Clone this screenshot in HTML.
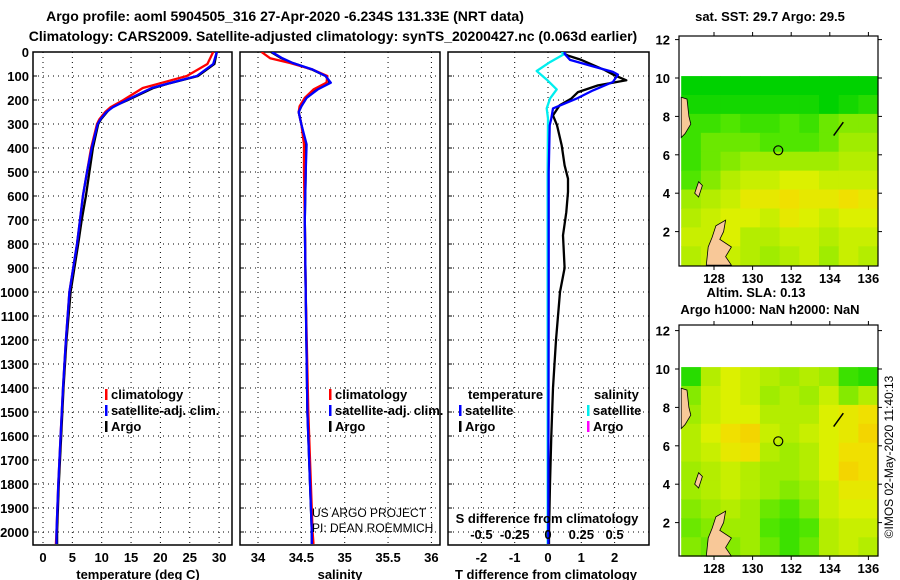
<!DOCTYPE html>
<html><head><meta charset="utf-8">
<style>
html,body{margin:0;padding:0;background:#fff;}
svg{display:block;font-family:"Liberation Sans",Arial,sans-serif;}
.b{font-weight:bold;font-size:13px;}
.t{font-weight:bold;font-size:14px;}
</style></head>
<body>
<svg id="fig" width="900" height="580" viewBox="0 0 900 580" xmlns="http://www.w3.org/2000/svg">
<text class="t" x="285" y="21" text-anchor="middle">Argo profile: aoml 5904505_316 27-Apr-2020 -6.234S 131.33E (NRT data)</text>
<text class="t" x="333" y="41" text-anchor="middle">Climatology: CARS2009. Satellite-adjusted climatology: synTS_20200427.nc (0.063d earlier)</text>
<g id="panels"></g>
<g id="maps"></g>
</svg>
<script>
// ---------- profile data ----------
const tempDepths = [0,50,100,130,150,200,230,250,280,300,400,500,600,700,800,1000,1200,1400,1600,1800,2000,2050];
const argoTemp = [29.6,29.2,26.4,21.6,18.8,14.5,11.7,10.9,9.9,9.4,8.5,7.9,7.3,6.6,6.0,4.7,4.0,3.5,3.1,2.7,2.4,2.4];
const climTemp = [29.0,28.0,24.5,20.0,17.0,13.7,11.5,10.6,9.6,9.2,8.2,7.5,6.8,6.3,5.8,4.5,3.9,3.4,3.0,2.6,2.3,2.2];
const satTemp = [29.6,29.0,26.2,21.5,18.5,14.3,11.9,10.8,9.8,9.3,8.3,7.5,6.8,6.3,5.8,4.5,3.9,3.4,3.0,2.6,2.3,2.3];
const salDepths = [0,26,46,73,100,128,156,191,226,250,302,385,500,700,1000,1500,2000,2050];
const climSal = [34.04,34.14,34.37,34.63,34.80,34.79,34.64,34.54,34.48,34.47,34.50,34.53,34.53,34.54,34.55,34.58,34.63,34.64];
const satSal = [34.16,34.28,34.40,34.63,34.78,34.84,34.69,34.56,34.50,34.47,34.50,34.56,34.55,34.54,34.55,34.57,34.62,34.62];
const argoSal = [34.15,34.27,34.40,34.62,34.78,34.83,34.68,34.56,34.50,34.47,34.50,34.55,34.55,34.54,34.55,34.57,34.62,34.62];
const satTdiffDepths = [0,8,33,60,83,94,125,160,194,235,277,305,500,1000,2000,2050];
const satTdiff = [0.5,0.5,0.66,1.35,1.95,2.1,1.95,1.35,0.86,0.15,0.1,0.05,0.02,0.02,0.01,0.01];
const argoTdiffDepths = [0,15,33,75,97,118,139,167,194,222,264,305,389,472,528,583,667,764,900,1000,1200,1400,1600,1800,2000,2050];
const argoTdiff = [0.4,0.6,1.0,1.7,2.0,2.35,1.5,0.9,0.7,0.35,0.15,0.27,0.41,0.5,0.6,0.6,0.55,0.45,0.5,0.36,0.24,0.15,0.1,0.06,0.03,0.03];
const satSdiffDepths = [0,8,42,79,115,156,194,235,277,500,1000,2000,2050];
const satSdiff = [0.1,0.125,0.015,-0.085,-0.01,0.065,0.015,-0.01,0,-0.003,-0.003,-0.002,-0.002];
const depthTicks = [0,100,200,300,400,500,600,700,800,900,1000,1100,1200,1300,1400,1500,1600,1700,1800,1900,2000];
const tempTicks = [0,5,10,15,20,25,30];
const salTicks = [34,34.5,35,35.5,36];
const tdiffTicks = [-2,-1,0,1,2];
const sdiffTicks = [-0.5,-0.25,0,0.25,0.5];
// ---------- map data (rows lat 10->0, cols lon 126.3->136.5) ----------
const sstGrid = [
[0.25,0.25,0.25,0.25,0.25,0.25,0.25,0.25,0.25,0.25],
[0.3,0.3,0.3,0.3,0.3,0.3,0.3,0.25,0.3,0.35],
[0.4,0.4,0.45,0.4,0.4,0.45,0.4,0.5,0.55,0.55],
[0.4,0.5,0.5,0.5,0.45,0.45,0.45,0.5,0.6,0.6],
[0.4,0.5,0.55,0.6,0.6,0.6,0.6,0.6,0.65,0.65],
[0.45,0.55,0.65,0.7,0.7,0.75,0.75,0.7,0.7,0.7],
[0.6,0.65,0.7,0.8,0.8,0.85,0.8,0.8,0.85,0.8],
[0.65,0.7,0.75,0.75,0.7,0.8,0.75,0.7,0.75,0.75],
[0.7,0.7,0.75,0.65,0.65,0.7,0.7,0.65,0.7,0.7],
[0.65,0.7,0.7,0.65,0.6,0.65,0.7,0.6,0.7,0.65]];
const slaGrid = [
[0.35,0.65,0.75,0.7,0.65,0.6,0.65,0.6,0.4,0.35],
[0.55,0.7,0.75,0.7,0.6,0.65,0.6,0.7,0.55,0.65],
[0.6,0.7,0.75,0.75,0.65,0.65,0.65,0.75,0.8,0.85],
[0.65,0.75,0.85,0.9,0.7,0.65,0.7,0.75,0.8,0.9],
[0.65,0.7,0.8,0.85,0.65,0.6,0.65,0.75,0.85,0.85],
[0.6,0.65,0.7,0.65,0.6,0.6,0.65,0.75,0.9,0.85],
[0.6,0.65,0.7,0.65,0.6,0.55,0.6,0.7,0.8,0.8],
[0.55,0.6,0.65,0.6,0.5,0.45,0.55,0.7,0.75,0.75],
[0.5,0.55,0.6,0.6,0.45,0.4,0.45,0.65,0.7,0.7],
[0.55,0.5,0.55,0.6,0.5,0.4,0.5,0.65,0.7,0.65]];
const latTicks = [2,4,6,8,10,12];
const lonTicks = [128,130,132,134,136];
const floatLon = 131.33, floatLat = 6.234;

const NS = "http://www.w3.org/2000/svg";
function mk(tag, attrs, parent, txt){
  const e = document.createElementNS(NS, tag);
  for (const k in attrs) e.setAttribute(k, attrs[k]);
  if (txt !== undefined) e.textContent = txt;
  parent.appendChild(e);
  return e;
}
const P = document.getElementById('panels');
const yD = d => 52 + d * 0.24;
const panels = [
  {x0:33, x1:232, name:'temperature-panel', sx: v => 43 + v*5.87},
  {x0:240, x1:440, name:'salinity-panel', sx: v => 258 + (v-34)*86.7},
  {x0:448, x1:649, name:'difference-panel', sx: v => 548 + v*33.3}
];
const sS = v => 548 + v*133.2;
const yTop = 52, yBot = 545;

panels.forEach((p, i) => {
  const g = mk('g', {}, P);
  
  
  const clip = mk('clipPath', {id:'clip'+i}, g);
  mk('rect', {x:p.x0, y:yTop, width:p.x1-p.x0, height:yBot-yTop}, clip);
  depthTicks.forEach(d => {
    const l = mk('line', {x1:p.x0, x2:p.x1, y1:yD(d), y2:yD(d), stroke:'#000', 'stroke-width':1, 'stroke-dasharray':'1 4'}, g);
    
    
    mk('line', {x1:p.x0, x2:p.x0+4, y1:yD(d), y2:yD(d), stroke:'#000'}, g);
    if (i === 0) {
      const t = mk('text', {x:29, y:yD(d)+5, 'text-anchor':'end', class:'b'}, g, String(d));
      
      
    }
  });
  const ticks = i===0 ? tempTicks : i===1 ? salTicks : tdiffTicks;
  ticks.forEach(v => {
    const x = p.sx(v);
    const l = mk('line', {x1:x, x2:x, y1:yTop, y2:yBot, stroke:'#000', 'stroke-width':1, 'stroke-dasharray':'1 4'}, g);
    
    
    const t = mk('text', {x:x, y:562, 'text-anchor':'middle', class:'b'}, g, String(v));
    
    
  });
  const fr = mk('rect', {x:p.x0, y:yTop, width:p.x1-p.x0, height:yBot-yTop, fill:'none', stroke:'#000', 'stroke-width':1.5}, g);
  
  
  const cg = mk('g', {'clip-path':'url(#clip'+i+')'}, g);
  p.cg = cg;
});

function line(panelIdx, depths, vals, color, name, sx, off){
  const p = panels[panelIdx];
  const f = sx || p.sx;
  const pts = depths.map((d,k) => (f(vals[k])+(off||0)).toFixed(1)+','+yD(d).toFixed(1)).join(' ');
  const e = mk('polyline', {points:pts, fill:'none', stroke:color, 'stroke-width':2.3, 'stroke-linejoin':'round'}, p.cg);
  
  
}
line(0, tempDepths, argoTemp, '#000', 'argo-temperature-line');
line(0, tempDepths, climTemp, '#f00', 'climatology-temperature-line');
line(0, tempDepths, satTemp, '#00f', 'satellite-temperature-line');
line(1, salDepths, argoSal, '#000', 'argo-salinity-line');
line(1, salDepths, climSal, '#f00', 'climatology-salinity-line');
line(1, salDepths, satSal, '#00f', 'satellite-salinity-line');
line(2, argoTdiffDepths, argoTdiff, '#000', 'argo-temperature-difference-line');
line(2, satSdiffDepths, satSdiff, '#0ee', 'satellite-salinity-difference-line', sS);
line(2, satTdiffDepths, satTdiff, '#00f', 'satellite-temperature-difference-line');

sdiffTicks.forEach(v => {
  const t = mk('text', {x:sS(v), y:539, 'text-anchor':'middle', class:'b'}, P, String(v));
  
  
});
let t;
t = mk('text', {x:547, y:523, 'text-anchor':'middle', class:'b'}, P, 'S difference from climatology');


t = mk('text', {x:138, y:579, 'text-anchor':'middle', class:'b'}, P, 'temperature (deg C)');


t = mk('text', {x:340, y:579, 'text-anchor':'middle', class:'b'}, P, 'salinity');


t = mk('text', {x:546, y:579, 'text-anchor':'middle', class:'b'}, P, 'T difference from climatology');


t = mk('text', {x:312, y:517, 'font-size':'12px'}, P, 'US ARGO PROJECT');


t = mk('text', {x:312, y:532, 'font-size':'12px'}, P, 'PI: DEAN ROEMMICH');



function legend(x, y, color, label){
  const g = mk('g', {}, P);
  
  
  mk('rect', {x:x, y:y-10, width:2.5, height:11, fill:color}, g);
  mk('text', {x:x+6, y:y, class:'b'}, g, label);
}
[[105,'climatology','#f00'],[105,'satellite-adj. clim.','#00f'],[105,'Argo','#000']].forEach((r,k)=>legend(r[0],399+k*16,r[2],r[1]));
[[329,'climatology','#f00'],[329,'satellite-adj. clim.','#00f'],[329,'Argo','#000']].forEach((r,k)=>legend(r[0],399+k*16,r[2],r[1]));
t = mk('text', {x:468, y:399, class:'b'}, P, 'temperature');


t = mk('text', {x:594, y:399, class:'b'}, P, 'salinity');


legend(459, 415, '#00f', 'satellite');
legend(459, 431, '#000', 'Argo');
legend(587, 415, '#0ee', 'satellite');
legend(587, 431, '#f0f', 'Argo');

// ---------- maps ----------
const M = document.getElementById('maps');
const lonX = lon => 714 + (lon-128)*19.3;
const stops = [[0,[0,176,96]],[0.25,[0,210,0]],[0.45,[80,230,0]],[0.6,[160,236,0]],[0.75,[220,240,0]],[0.85,[240,224,0]],[1,[248,190,0]]];
function cmap(v){
  for (let k=1;k<stops.length;k++){
    if (v<=stops[k][0]){
      const a=stops[k-1], b=stops[k], f=(v-a[0])/(b[0]-a[0]);
      const c=a[1].map((q,j)=>Math.round(q+(b[1][j]-q)*f));
      return 'rgb('+c.join(',')+')';
    }
  }
  return 'rgb(248,190,0)';
}
function drawMap(y0, y1, latY, grid, name, titleTxt, titleY){
  const g = mk('g', {}, M);
  
  
  const lonMin = 126.3, lonMax = 136.5, latTop = 10.1, latBot = 0.25;
  const nr = grid.length, nc = grid[0].length;
  const cw = (lonMax-lonMin)/nc, ch = (latTop-latBot)/nr;
  grid.forEach((row, r) => row.forEach((v, c) => {
    const x = lonX(lonMin + c*cw), y = latY(latTop - r*ch);
    const cell = mk('rect', {x:x, y:y, width:lonX(lonMin+(c+1)*cw)-x+0.5, height:latY(latTop-(r+1)*ch)-y+0.5, fill:cmap(v)}, g);
    
    
  }));
  const land1 = [[126.3,9.0],[126.6,8.9],[126.7,8.0],[126.8,7.6],[126.5,7.1],[126.3,6.9]];
  const land2 = [[127.6,0.25],[127.7,1.2],[127.9,1.7],[128.1,2.3],[128.6,2.6],[128.5,2.0],[128.3,1.6],[128.9,1.2],[128.6,0.7],[128.9,0.25]];
  const land3 = [[127.2,4.6],[127.4,4.4],[127.2,3.8],[127.0,4.0]];
  [land1,land2,land3].forEach(L => {
    const e = mk('polygon', {points:L.map(q=>lonX(q[0]).toFixed(1)+','+latY(q[1]).toFixed(1)).join(' '), fill:'#f8c898', stroke:'#000', 'stroke-width':0.8}, g);
    
    
  });
  const isl = mk('line', {x1:lonX(134.2), y1:latY(7.0), x2:lonX(134.7), y2:latY(7.7), stroke:'#000', 'stroke-width':1.5}, g);
  
  
  const ci = mk('circle', {cx:lonX(floatLon), cy:latY(floatLat), r:4.5, fill:'none', stroke:'#000', 'stroke-width':1.2}, g);
  
  
  const fr = mk('rect', {x:679, y:y0, width:199, height:y1-y0, fill:'none', stroke:'#000', 'stroke-width':1.2}, g);
  
  
  latTicks.forEach(v => {
    const y = latY(v);
    mk('line', {x1:679, x2:675, y1:y, y2:y, stroke:'#000'}, g);
    mk('line', {x1:878, x2:882, y1:y, y2:y, stroke:'#000'}, g);
    const tt = mk('text', {x:670, y:y+5, 'text-anchor':'end', class:'b'}, g, String(v));
    
    
  });
  lonTicks.forEach(v => {
    const x = lonX(v);
    mk('line', {x1:x, x2:x, y1:y0, y2:y0-4, stroke:'#000'}, g);
    mk('line', {x1:x, x2:x, y1:y1, y2:y1+4, stroke:'#000'}, g);
    const tt = mk('text', {x:x, y:y1+17, 'text-anchor':'middle', class:'b'}, g, String(v));
    
    
  });
  const ti = mk('text', {x:770, y:titleY, 'text-anchor':'middle', class:'b'}, g, titleTxt);
  
  
}
drawMap(36, 266, lat => 78 + (10-lat)*19.2, sstGrid, 'sst-map', 'sat. SST: 29.7 Argo: 29.5', 21);
drawMap(325, 556, lat => 369 + (10-lat)*19.2, slaGrid, 'sla-map', 'Argo h1000: NaN h2000: NaN', 314);
t = mk('text', {x:756, y:297, 'text-anchor':'middle', class:'b'}, M, 'Altim. SLA: 0.13');


t = mk('text', {x:0, y:0, 'font-size':'12px', 'text-anchor':'middle', transform:'translate(893,457) rotate(-90)'}, M, '\u00A9IMOS 02-May-2020 11:40:13');


</script>
</body></html>
